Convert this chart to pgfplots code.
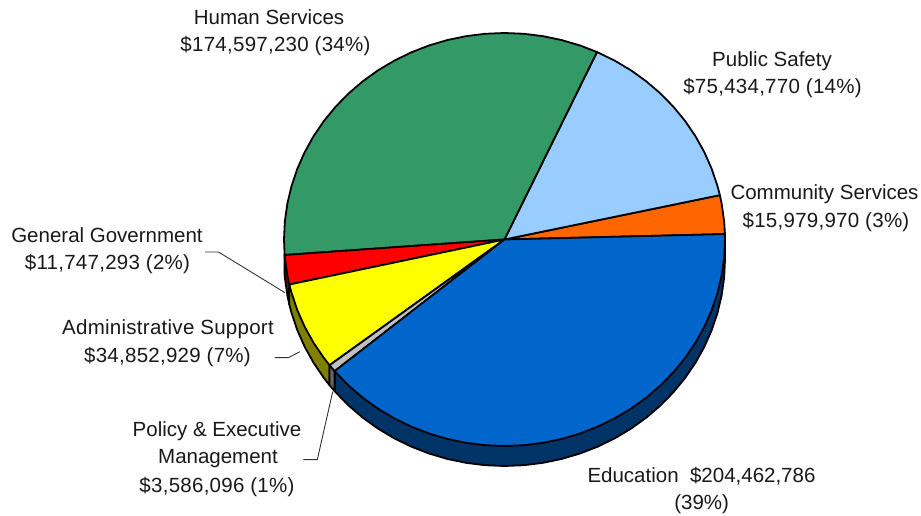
\documentclass[border=0pt]{standalone}
\usepackage{pgfplots}
\usepackage{fontspec}
\setmainfont{Liberation Sans}
\newfontfamily\numfont[LetterSpace=1.3]{Liberation Sans}
\pgfplotsset{compat=1.18}
\definecolor{edu}{HTML}{0066CC}
\definecolor{edud}{HTML}{003366}
\definecolor{comm}{HTML}{FF6600}
\definecolor{safe}{HTML}{99CCFF}
\definecolor{human}{HTML}{339966}
\definecolor{gov}{HTML}{FF0000}
\definecolor{govd}{HTML}{800000}
\definecolor{adm}{HTML}{FFFF00}
\definecolor{admd}{HTML}{808000}
\definecolor{pol}{HTML}{C0C0C0}
\definecolor{pold}{HTML}{666666}
\definecolor{lead}{HTML}{333333}
\newcommand\lab[3]{\node[anchor=base,inner sep=0pt,font=\fontsize{20.5pt}{24pt}\selectfont,text=black!90] at (#1,516-#2) {#3};}
\begin{document}
\begin{tikzpicture}[x=1pt,y=1pt]
\useasboundingbox (0,0) rectangle (921,516);
\begin{axis}[at={(0,0)},anchor=south west,scale only axis,width=921pt,height=516pt,
  xmin=-2.28798,xmax=1.88889,ymin=-1.33898,ymax=1.15981,hide axis,
  every axis plot/.append style={draw=black,line width=1.8pt,line join=round}]
% sides
\addplot[fill=edud] coordinates {(0,0)(-.7705,-.6374)(-.7705,-.7343)(-.7660,-.7397)(-.7071,-.8040)(-.6428,-.8629)(-.5736,-.9161)(-.5,-.9629)(-.4226,-1.0032)(-.3420,-1.0366)(-.2588,-1.0628)(-.1736,-1.0817)(-.0872,-1.0931)(0,-1.0969)(.0872,-1.0931)(.1736,-1.0817)(.2588,-1.0628)(.3420,-1.0366)(.4226,-1.0032)(.5,-.9629)(.5736,-.9161)(.6428,-.8629)(.7071,-.8040)(.7660,-.7397)(.8192,-.6705)(.8660,-.5969)(.9063,-.5195)(.9397,-.4389)(.9659,-.3557)(.9848,-.2705)(.9962,-.1841)(1,-.0969)(.9997,-.0707)(.9997,.0262)} -- cycle;
\addplot[fill=govd] coordinates {(-.9972,-.0750)(-.9848,-.1736)(-.9759,-.2181)(-.9759,-.3150)(-.9848,-.2705)(-.9962,-.1841)(-.9972,-.1719)} -- cycle;
\addplot[fill=admd] coordinates {(-.9759,-.2181)(-.7934,-.6088)(-.7934,-.7057)(-.8192,-.6705)(-.8660,-.5969)(-.9063,-.5195)(-.9397,-.4389)(-.9659,-.3557)(-.9759,-.3150)} -- cycle;
\addplot[fill=pold] coordinates {(-.7934,-.6088)(-.7705,-.6374)(-.7705,-.7343)(-.7934,-.7057)} -- cycle;
% top faces
\addplot[fill=comm] coordinates {(0,0)(.9997,.0262)(.9962,.0872)(.9848,.1736)(.9767,.2147)} -- cycle;
\addplot[fill=safe] coordinates {(0,0)(.9767,.2147)(.9659,.2588)(.9397,.3420)(.9063,.4226)(.8660,.5)(.8192,.5736)(.7660,.6428)(.7071,.7071)(.6428,.7660)(.5736,.8192)(.5,.8660)(.4195,.9078)} -- cycle;
\addplot[fill=human] coordinates {(0,0)(.4195,.9078)(.3420,.9397)(.2588,.9659)(.1736,.9848)(.0872,.9962)(0,1)(-.0872,.9962)(-.1736,.9848)(-.2588,.9659)(-.3420,.9397)(-.4226,.9063)(-.5,.8660)(-.5736,.8192)(-.6428,.7660)(-.7071,.7071)(-.7660,.6428)(-.8192,.5736)(-.8660,.5)(-.9063,.4226)(-.9397,.3420)(-.9659,.2588)(-.9848,.1736)(-.9962,.0872)(-1,0)(-.9972,-.0750)} -- cycle;
\addplot[fill=gov] coordinates {(0,0)(-.9972,-.0750)(-.9962,-.0872)(-.9848,-.1736)(-.9759,-.2181)} -- cycle;
\addplot[fill=adm] coordinates {(0,0)(-.9759,-.2181)(-.9659,-.2588)(-.9397,-.3420)(-.9063,-.4226)(-.8660,-.5)(-.8192,-.5736)(-.7934,-.6088)} -- cycle;
\addplot[fill=pol] coordinates {(0,0)(-.7934,-.6088)(-.7705,-.6374)} -- cycle;
\addplot[fill=edu] coordinates {(0,0)(-.7705,-.6374)(-.7660,-.6428)(-.7071,-.7071)(-.6428,-.7660)(-.5736,-.8192)(-.5,-.8660)(-.4226,-.9063)(-.3420,-.9397)(-.2588,-.9659)(-.1736,-.9848)(-.0872,-.9962)(0,-1)(.0872,-.9962)(.1736,-.9848)(.2588,-.9659)(.3420,-.9397)(.4226,-.9063)(.5,-.8660)(.5736,-.8192)(.6428,-.7660)(.7071,-.7071)(.7660,-.6428)(.8192,-.5736)(.8660,-.5)(.9063,-.4226)(.9397,-.3420)(.9659,-.2588)(.9848,-.1736)(.9962,-.0872)(1,0)(.9997,.0262)} -- cycle;
\end{axis}
\draw[lead,line width=0.9pt] (205,516-252)--(218.5,516-252)--(285,516-292.7);
\draw[lead,line width=0.9pt] (274.7,516-357.7)--(288.3,516-357.7)--(300,516-351.7);
\draw[lead,line width=0.9pt] (303.3,516-459.7)--(317.3,516-459.7)--(332.7,516-391.7);
\lab{269}{25}{Human Services}
\lab{275.5}{52}{\numfont\$174,597,230 (34\%)}
\lab{772}{67}{Public Safety}
\lab{772.5}{94}{\numfont\$75,434,770 (14\%)}
\lab{824.5}{200}{Community Services}
\lab{826}{228}{\numfont\$15,979,970 (3\%)}
\lab{107}{243}{General Government}
\lab{107.5}{270}{\numfont\$11,747,293 (2\%)}
\lab{168}{335}{\numfont Administrative Support}
\lab{167.5}{362.7}{\numfont\$34,852,929 (7\%)}
\lab{217}{436.7}{Policy \& Executive}
\lab{218}{464}{Management}
\lab{217}{492.7}{\numfont\$3,586,096 (1\%)}
\lab{701.5}{482.7}{Education\ \ \$204,462,786}
\lab{701.7}{510}{(39\%)}
\end{tikzpicture}
\end{document}
